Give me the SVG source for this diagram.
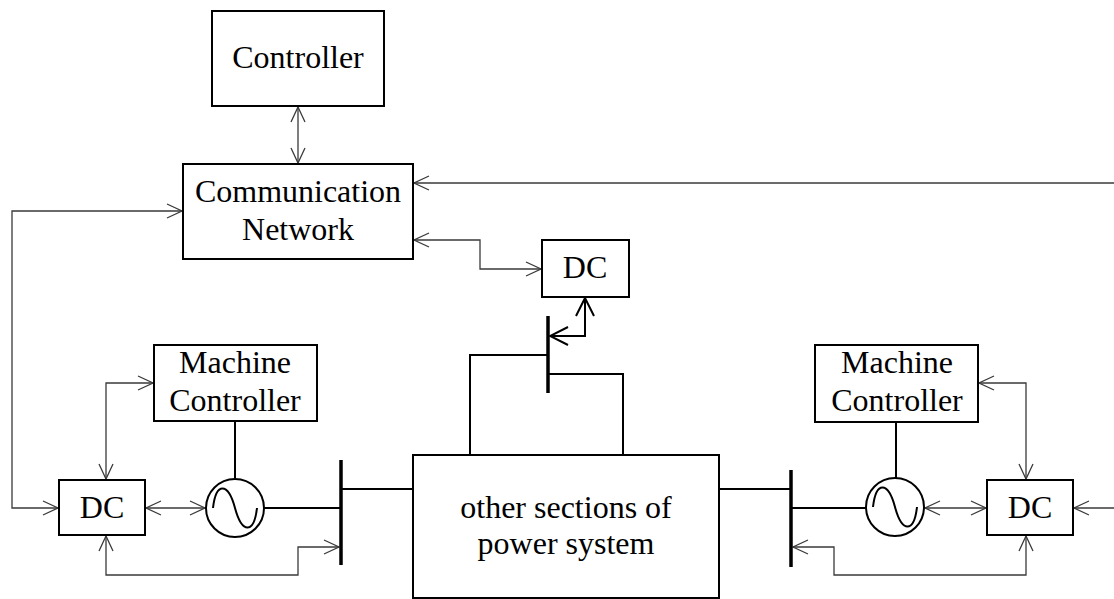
<svg xmlns="http://www.w3.org/2000/svg" width="1114" height="599" viewBox="0 0 1114 599">
<style>
.box{fill:#fff;stroke:#000;stroke-width:2}
.t{font-family:'Liberation Serif','DejaVu Serif',serif;font-size:32px;fill:#000;text-anchor:middle}
.c{fill:none;stroke:#3a3a3a;stroke-width:1.3}
.cb{fill:none;stroke:#000;stroke-width:2}
.p{fill:none;stroke:#000;stroke-width:2}
.bus{fill:none;stroke:#000;stroke-width:3.5}
</style>
<defs>
<marker id="a" markerUnits="userSpaceOnUse" viewBox="0 0 17 16" refX="16" refY="8" markerWidth="17" markerHeight="16" orient="auto-start-reverse">
<path d="M1,1 L16,8 L1,15" fill="none" stroke="#3a3a3a" stroke-width="1.3"/>
</marker>
<marker id="ab" markerUnits="userSpaceOnUse" viewBox="0 0 20 20" refX="19" refY="10" markerWidth="20" markerHeight="20" orient="auto-start-reverse">
<path d="M1,1 L19,10 L1,19" fill="none" stroke="#000" stroke-width="2"/>
</marker>
</defs>
<rect width="1114" height="599" fill="#fff"/>

<g id="connectors">
<path class="c" d="M298,107 V163" marker-start="url(#a)" marker-end="url(#a)"/>
<path class="c" d="M1114,183 H414" marker-end="url(#a)"/>
<path class="c" d="M414,240 H480 V269 H541" marker-start="url(#a)" marker-end="url(#a)"/>
<path class="c" d="M182,211 H12 V508 H58" marker-start="url(#a)" marker-end="url(#a)"/>
<path class="c" d="M153,383 H106 V479" marker-start="url(#a)" marker-end="url(#a)"/>
<path class="c" d="M146,508 H205" marker-start="url(#a)" marker-end="url(#a)"/>
<path class="c" d="M106,536 V575 H298 V547 H339" marker-start="url(#a)" marker-end="url(#a)"/>
<path class="c" d="M979,383 H1026 V479" marker-start="url(#a)" marker-end="url(#a)"/>
<path class="c" d="M925,508 H986" marker-start="url(#a)" marker-end="url(#a)"/>
<path class="c" d="M1026,536 V575 H834 V547 H793" marker-start="url(#a)" marker-end="url(#a)"/>
<path class="c" d="M1114,508 H1074" marker-end="url(#a)"/>
<path class="cb" d="M585,298 V336 H550" marker-start="url(#ab)" marker-end="url(#ab)"/>
<path class="p" d="M235,422 V478"/>
<path class="p" d="M264,508 H341"/>
<path class="p" d="M341,489 H413"/>
<path class="p" d="M896,423 V478"/>
<path class="p" d="M866,508 H791"/>
<path class="p" d="M791,489 H719"/>
<path class="p" d="M548,355 H470 V455"/>
<path class="p" d="M548,374 H623 V455"/>
</g>

<g id="controller">
<rect class="box" x="212" y="11" width="172" height="95"/>
<text class="t" x="298" y="68">Controller</text>
</g>

<g id="comm-network">
<rect class="box" x="183" y="164" width="230" height="95"/>
<text class="t" x="298" y="202">Communication</text>
<text class="t" x="298" y="240">Network</text>
</g>

<g id="dc-mid">
<rect class="box" x="542" y="240" width="87" height="57"/>
<text class="t" x="585" y="278">DC</text>
</g>

<g id="bus-mid">
<path class="bus" d="M548,316 V393"/>
</g>

<g id="other-sections">
<rect class="box" x="413" y="455" width="306" height="143"/>
<text class="t" x="566" y="518">other sections of</text>
<text class="t" x="566" y="554">power system</text>
</g>

<g id="mc-left">
<rect class="box" x="154" y="345" width="163" height="76"/>
<text class="t" x="235" y="373">Machine</text>
<text class="t" x="235" y="411">Controller</text>
</g>

<g id="gen-left">
<circle cx="235" cy="508" r="29" fill="#fff" stroke="#000" stroke-width="2"/>
<path d="M213,508 C216,482 228,482 235,508 C242,534 254,534 257,508" fill="none" stroke="#000" stroke-width="2"/>
</g>

<g id="bus-left">
<path class="bus" d="M341,460 V565"/>
</g>

<g id="dc-left">
<rect class="box" x="59" y="480" width="86" height="55"/>
<text class="t" x="102" y="518">DC</text>
</g>

<g id="mc-right">
<rect class="box" x="815" y="345" width="163" height="77"/>
<text class="t" x="897" y="373">Machine</text>
<text class="t" x="897" y="411">Controller</text>
</g>

<g id="gen-right">
<circle cx="895" cy="507" r="29" fill="#fff" stroke="#000" stroke-width="2"/>
<path d="M873,507 C876,481 888,481 895,507 C902,533 914,533 917,507" fill="none" stroke="#000" stroke-width="2"/>
</g>

<g id="bus-right">
<path class="bus" d="M791,470 V567"/>
</g>

<g id="dc-right">
<rect class="box" x="987" y="480" width="86" height="55"/>
<text class="t" x="1030" y="518">DC</text>
</g>
</svg>
